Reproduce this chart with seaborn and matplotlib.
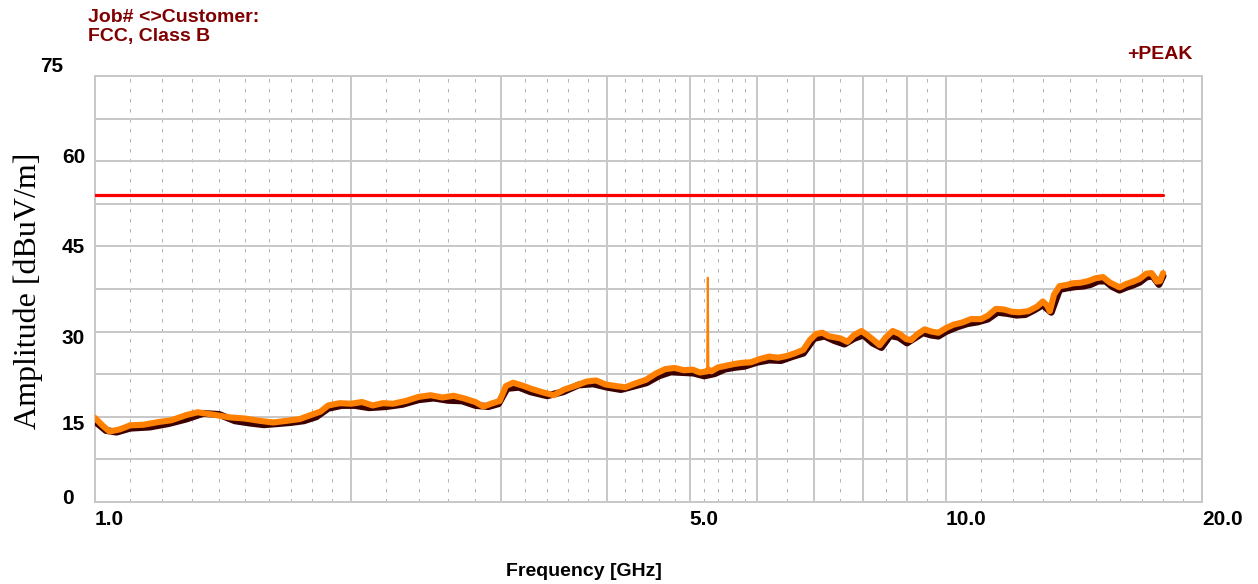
import numpy as np
import pandas as pd
import matplotlib
matplotlib.use("Agg")
import matplotlib.pyplot as plt
import matplotlib.ticker as mticker
from matplotlib.transforms import ScaledTranslation
import seaborn as sns

# ---------------- data ----------------
peak_freq = [1.00, 1.02, 1.04, 1.07, 1.10, 1.14, 1.19, 1.23, 1.28, 1.32, 1.36, 1.40, 1.44, 1.50,
             1.56, 1.62, 1.68, 1.74, 1.80, 1.84, 1.88, 1.94, 2.00, 2.06, 2.12, 2.18, 2.24, 2.32,
             2.40, 2.48, 2.56, 2.64, 2.72, 2.80, 2.86, 2.92, 2.99, 3.04, 3.10, 3.18, 3.26, 3.36,
             3.46, 3.56, 3.66, 3.78, 3.88, 3.98, 4.10, 4.20, 4.32, 4.44, 4.56, 4.68, 4.80, 4.92,
             5.04, 5.14, 5.24, 5.26, 5.30, 5.40, 5.52, 5.64, 5.76, 5.90, 6.05, 6.20, 6.35, 6.50,
             6.65, 6.80, 6.92, 7.04, 7.16, 7.28, 7.40, 7.52, 7.66, 7.80, 7.96, 8.10, 8.24, 8.36,
             8.50, 8.66, 8.82, 8.98, 9.10, 9.25, 9.44, 9.62, 9.80, 10.0, 10.2, 10.45, 10.7, 11.0,
             11.2, 11.45, 11.7, 11.95, 12.2, 12.5, 12.8, 13.0, 13.15, 13.25, 13.4, 13.6, 13.85,
             14.1, 14.4, 14.7, 15.0, 15.3, 15.6, 16.0, 16.3, 16.6, 16.9, 17.2, 17.45, 17.7,
             17.85, 18.0]
peak_amp = [14.8, 13.5, 12.4, 12.8, 13.5, 13.6, 14.1, 14.4, 15.3, 15.8, 15.5, 15.2, 14.9, 14.7,
            14.3, 14.0, 14.3, 14.6, 15.4, 15.9, 17.0, 17.4, 17.3, 17.6, 17.0, 17.4, 17.3, 17.8,
            18.5, 18.8, 18.4, 18.7, 18.2, 17.6, 16.8, 17.3, 17.8, 20.4, 21.0, 20.5, 19.9, 19.3,
            18.8, 19.8, 20.4, 21.2, 21.4, 20.7, 20.4, 20.2, 20.9, 21.5, 22.6, 23.4, 23.6, 23.2,
            23.3, 22.8, 23.0, 23.3, 23.0, 23.7, 24.0, 24.3, 24.5, 24.6, 25.2, 25.6, 25.4, 25.7,
            26.2, 26.8, 28.5, 29.6, 29.8, 29.2, 29.0, 28.8, 28.2, 29.4, 30.1, 29.3, 28.4, 27.6,
            29.0, 30.1, 29.6, 28.7, 28.5, 29.5, 30.4, 30.0, 29.8, 30.6, 31.2, 31.6, 32.2, 32.2,
            32.8, 34.0, 33.9, 33.5, 33.4, 33.6, 34.4, 35.3, 34.6, 33.6, 36.5, 38.0, 38.2,
            38.5, 38.6, 38.9, 39.4, 39.6, 38.6, 37.8, 38.4, 38.8, 39.3, 40.2, 40.3, 38.8,
            38.9, 40.3]

spike_freq = [5.24, 5.25, 5.255, 5.26]
spike_amp = [23.0, 39.5, 32.2, 23.3]

dark_freq = [1.00, 1.03, 1.06, 1.10, 1.16, 1.22, 1.28, 1.34, 1.40, 1.46, 1.52, 1.58, 1.64, 1.70,
             1.76, 1.82, 1.88, 1.95, 2.02, 2.10, 2.20, 2.30, 2.40, 2.50, 2.60, 2.70, 2.80, 2.90,
             2.98, 3.05, 3.15, 3.25, 3.40, 3.55, 3.70, 3.85, 4.00, 4.15, 4.30, 4.45, 4.60, 4.75,
             4.90, 5.05, 5.20, 5.35, 5.50, 5.65, 5.80, 6.00, 6.20, 6.40, 6.60, 6.80, 7.00, 7.20,
             7.40, 7.60, 7.80, 8.00, 8.20, 8.40, 8.60, 8.80, 9.00, 9.20, 9.40, 9.60, 9.80, 10.0,
             10.3, 10.6, 10.9, 11.2, 11.5, 11.8, 12.1, 12.4, 12.7, 13.0, 13.3, 13.6, 13.9, 14.2,
             14.5, 14.8, 15.1, 15.4, 15.7, 16.0, 16.3, 16.6, 16.9, 17.2, 17.5, 17.8, 18.0]
dark_amp = [14.2, 12.6, 12.3, 13.0, 13.2, 13.8, 14.6, 15.6, 15.4, 14.3, 13.9, 13.6, 13.8, 14.0,
            14.3, 15.0, 16.5, 17.0, 17.0, 16.6, 16.8, 17.2, 18.0, 18.3, 17.9, 17.8, 17.0, 16.8,
            17.3, 20.0, 20.2, 19.4, 18.7, 19.4, 20.6, 20.8, 20.2, 19.8, 20.4, 21.0, 22.2, 22.9,
            22.8, 22.7, 22.2, 22.6, 23.4, 23.7, 23.9, 24.6, 25.0, 24.9, 25.6, 26.2, 28.8, 29.2,
            28.4, 27.8, 28.8, 29.4, 28.0, 27.2, 29.3, 29.0, 28.0, 28.9, 29.8, 29.4, 29.2, 30.0,
            30.8, 31.4, 31.7, 32.2, 33.4, 33.2, 32.9, 33.0, 33.8, 34.7, 33.4, 37.4, 37.7, 37.9,
            38.0, 38.3, 38.9, 38.9, 37.9, 37.3, 37.8, 38.2, 38.7, 39.6, 39.8, 38.3, 39.8]

limit_freq = [1.0, 18.0]
limit_amp = [54.0, 54.0]

x_major = [1, 2, 3, 4, 5, 6, 7, 8, 9, 10, 20]
x_major_labels = ["1.0", "", "", "", "5.0", "", "", "", "", "10.0", "20.0"]
x_minor = [1.1, 1.2, 1.3, 1.4, 1.5, 1.6, 1.7, 1.8, 1.9,
           2.2, 2.4, 2.6, 2.8, 3.2, 3.4, 3.6, 3.8, 4.2, 4.4, 4.6, 4.8,
           5.2, 5.4, 5.6, 5.8, 6.5, 7.5, 8.5, 9.5,
           11, 12, 13, 14, 15, 16, 17, 18, 19]
y_major = [0, 7.5, 15, 22.5, 30, 37.5, 45, 52.5, 60, 67.5, 75]
y_major_labels = ["0", "", "15", "", "30", "", "45", "", "60", "", "75"]

# ---------------- style ----------------
sns.set_style("white")
plt.rcParams["font.family"] = ["Liberation Sans", "DejaVu Sans"]

W, H = 1258, 584
fig = plt.figure(figsize=(W / 100, H / 100), dpi=100)
ax = fig.add_axes([95 / W, 1 - 502 / H, (1202 - 95) / W, (502 - 76) / H])
ax.set_xscale("log")

dark_df = pd.DataFrame({"freq": dark_freq, "amp": dark_amp})
peak_df = pd.DataFrame({"freq": peak_freq, "amp": peak_amp})
spike_df = pd.DataFrame({"freq": spike_freq, "amp": spike_amp})
limit_df = pd.DataFrame({"freq": limit_freq, "amp": limit_amp})

sns.lineplot(data=limit_df, x="freq", y="amp", ax=ax, color="#ff0000", lw=2.3,
             estimator=None, sort=False, zorder=3)
sns.lineplot(data=dark_df, x="freq", y="amp", ax=ax, color="#3c0000", lw=5.0,
             estimator=None, sort=False, zorder=4)
sns.lineplot(data=peak_df, x="freq", y="amp", ax=ax, color="#ff8000", lw=4.4,
             estimator=None, sort=False, zorder=5)
sns.lineplot(data=spike_df, x="freq", y="amp", ax=ax, color="#ff8000", lw=1.4,
             estimator=None, sort=False, zorder=5)

ax.set_xlim(1, 20)
ax.set_ylim(0, 75)
ax.set_xlabel("")
ax.set_ylabel("")

ax.xaxis.set_major_locator(mticker.FixedLocator(x_major))
ax.xaxis.set_major_formatter(mticker.FixedFormatter(x_major_labels))
ax.xaxis.set_minor_locator(mticker.FixedLocator(x_minor))
ax.xaxis.set_minor_formatter(mticker.NullFormatter())
ax.yaxis.set_major_locator(mticker.FixedLocator(y_major))
ax.yaxis.set_major_formatter(mticker.FixedFormatter(y_major_labels))
ax.yaxis.set_minor_locator(mticker.NullLocator())

ax.grid(which="major", axis="both", color="#c8c8c8", lw=1.44, zorder=0)
ax.grid(which="minor", axis="x", color="#b4b4b4", lw=0.72, linestyle=(0, (3.5, 6.5)), zorder=0)
ax.set_axisbelow(True)
for s in ax.spines.values():
    s.set_color("#c8c8c8")
    s.set_linewidth(1.44)

ax.tick_params(axis="both", which="both", length=0, labelcolor="black")
ax.tick_params(axis="x", which="major", labelsize=15, pad=6)
ax.tick_params(axis="y", which="major", labelsize=15, pad=23.8)
for lab in ax.get_xticklabels():
    lab.set_fontweight("bold")
    lab.set_horizontalalignment("left")
ylab_offsets = {"0": (0, -4), "15": (0, 8), "30": (0, 6.5), "45": (0, 1),
                "60": (0, -4), "75": (-22, -9)}
for lab in ax.get_yticklabels():
    lab.set_fontweight("bold")
    lab.set_horizontalalignment("left")
    lab.set_verticalalignment("center")
    t = lab.get_text()
    if t in ylab_offsets:
        dx, dy = ylab_offsets[t]
        lab.set_transform(lab.get_transform() +
                          ScaledTranslation(dx / 100, -dy / 100, fig.dpi_scale_trans))

# ---------------- texts ----------------
title_color = "#800000"
fig.text(88 / W, 1 - 9 / H, "Job# <>Customer:", ha="left", va="top", color=title_color,
         fontsize=14, fontweight="bold")
fig.text(88 / W, 1 - 28 / H, "FCC, Class B", ha="left", va="top", color=title_color,
         fontsize=14, fontweight="bold")
fig.text(1192 / W, 1 - 46 / H, "+PEAK", ha="right", va="top", color=title_color,
         fontsize=14, fontweight="bold")
fig.text(584 / W, 1 - 571 / H, "Frequency [GHz]", ha="center", va="center", color="black",
         fontsize=14, fontweight="bold")
fig.text(28 / W, 1 - 291 / H, "Amplitude [dBuV/m]", ha="center", va="center", rotation=90,
         color="black", fontsize=23, family=["Liberation Serif", "DejaVu Serif"])

fig.savefig("out.png", dpi=100, facecolor="white")
